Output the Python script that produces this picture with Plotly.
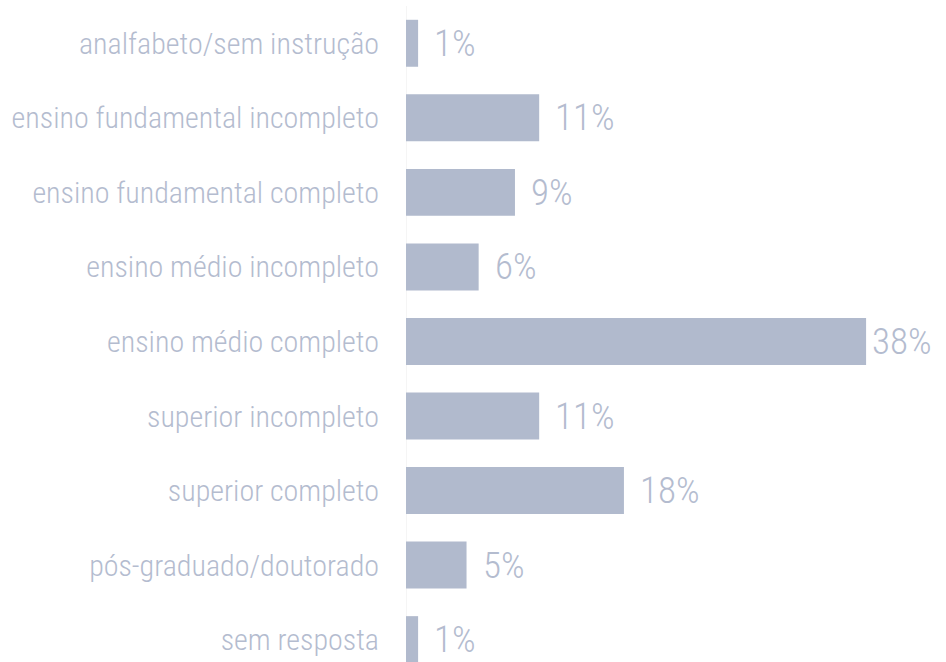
import plotly.graph_objects as go

# Education level of respondents (share of total, %)
categories = [
    "analfabeto/sem instrução",
    "ensino fundamental incompleto",
    "ensino fundamental completo",
    "ensino médio incompleto",
    "ensino médio completo",
    "superior incompleto",
    "superior completo",
    "pós-graduado/doutorado",
    "sem resposta",
]
values = [1, 11, 9, 6, 38, 11, 18, 5, 1]

BAR_COLOR = "#b1bacd"
TEXT_COLOR = "#b4bccf"
FONT = "Roboto Condensed, Liberation Sans, sans-serif"

fig = go.Figure(
    go.Bar(
        x=values,
        y=categories,
        orientation="h",
        marker=dict(color=BAR_COLOR, line=dict(width=0)),
        width=0.63,
        hoverinfo="skip",
    )
)

# value labels to the right of each bar; the longest one sits closer to fit
top = max(values)
for cat, v in zip(categories, values):
    fig.add_annotation(
        x=v,
        y=cat,
        text=f"{v}%",
        showarrow=False,
        xanchor="left",
        yanchor="middle",
        xshift=4 if v == top else 14,
        font=dict(family=FONT, size=37, color=TEXT_COLOR, weight=300),
    )

fig.update_layout(
    width=946,
    height=662,
    margin=dict(l=406, r=0, t=6, b=0),
    paper_bgcolor="white",
    plot_bgcolor="white",
    showlegend=False,
    xaxis=dict(
        range=[0, 44.6],
        visible=False,
        fixedrange=True,
    ),
    yaxis=dict(
        type="category",
        categoryorder="array",
        categoryarray=categories,
        range=[8.3, -0.5],
        showgrid=False,
        zeroline=False,
        showline=False,
        ticks="",
        automargin=False,
        ticklabelstandoff=26,
        tickfont=dict(family=FONT, size=30, color=TEXT_COLOR, weight=300),
        fixedrange=True,
    ),
    shapes=[
        dict(
            type="line",
            xref="x",
            yref="paper",
            x0=0,
            x1=0,
            y0=0,
            y1=1,
            line=dict(color="#ececec", width=1),
            layer="below",
        )
    ],
)

fig.write_html("out.html")
